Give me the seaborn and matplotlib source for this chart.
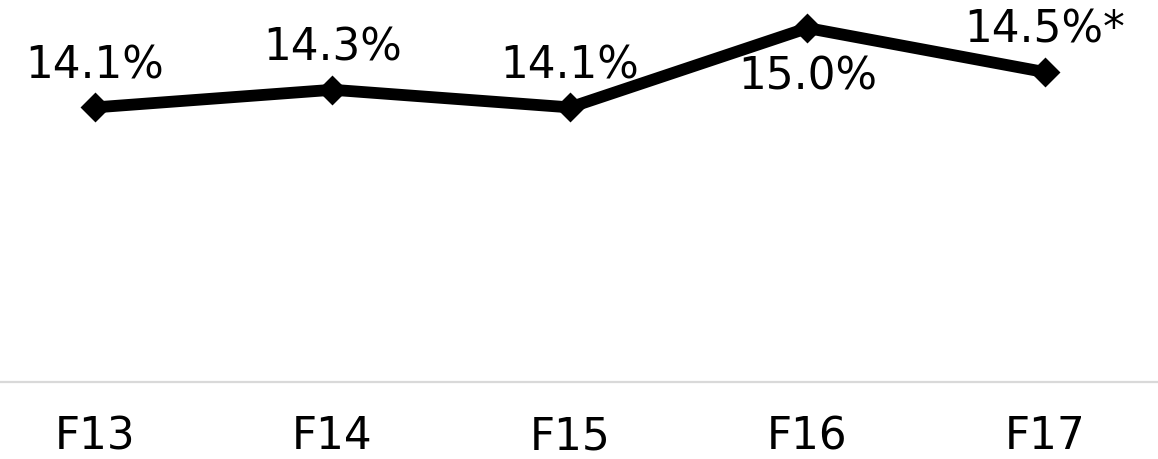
import matplotlib
matplotlib.use("Agg")
import matplotlib.pyplot as plt
import seaborn as sns
import pandas as pd

categories = ["F13", "F14", "F15", "F16", "F17"]
values = [14.1, 14.3, 14.1, 15.0, 14.5]
labels = ["14.1%", "14.3%", "14.1%", "15.0%", "14.5%*"]
label_below = [False, False, False, True, False]

sns.set_theme(style="white")
plt.rcParams['font.family'] = ['DejaVu Sans']

W, H = 1158, 459
fig = plt.figure(figsize=(W / 100, H / 100), dpi=100)
ax = fig.add_axes([0, (H - 382) / H, 1, 382 / H])

df = pd.DataFrame({"cat": categories, "val": values})
df["x"] = range(len(categories))
sns.lineplot(data=df, x="x", y="val", ax=ax, color="black", linewidth=8.5,
             marker="D", markersize=13, markeredgecolor="black",
             markeredgewidth=2, solid_joinstyle="round")
for line in ax.lines:
    line.set_markeredgewidth(2)
    line.set_dash_joinstyle("round")

ax.set_xlim(-0.4, 4.476)
ax.set_ylim(10.986, 15.318)

for i, (v, lab, below) in enumerate(zip(values, labels, label_below)):
    if below:
        ax.annotate(lab, (i, v), xytext=(0, -20), textcoords="offset points",
                    ha="center", va="top", fontsize=31.5, color="black")
    else:
        ax.annotate(lab, (i, v), xytext=(0, 21), textcoords="offset points",
                    ha="center", va="baseline", fontsize=31.5, color="black")

ax.set_xticks(range(len(categories)))
ax.set_xticklabels(categories, fontsize=31.5, color="black")
ax.tick_params(axis="x", length=0, pad=24)
ax.set_yticks([])
ax.set_xlabel("")
ax.set_ylabel("")
for s in ["top", "left", "right"]:
    ax.spines[s].set_visible(False)
ax.spines["bottom"].set_color("#d9d9d9")
ax.spines["bottom"].set_linewidth(1.6)

fig.savefig("out.png", dpi=100)
